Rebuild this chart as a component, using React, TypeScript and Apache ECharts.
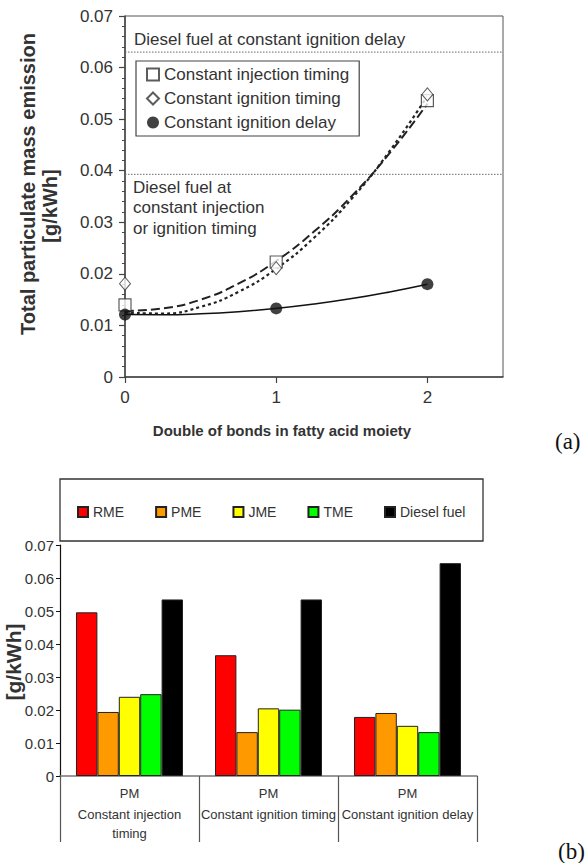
import React, { useEffect, useRef } from "react";
import * as echarts from "echarts";

// ---------- Chart (a) data ----------
const bondsX = [0, 1, 2];
const injTiming = [0.014, 0.0223, 0.0536];
const ignTiming = [0.0181, 0.0211, 0.0548];
const ignDelay = [0.0121, 0.0133, 0.018];

const fitX = [0, 0.25, 0.5, 0.75, 1, 1.25, 1.5, 1.75, 2];
const fitInj = [0.0128, 0.0133, 0.015, 0.0181, 0.0225, 0.0282, 0.0351, 0.0434, 0.053];
const fitIgn = [0.0125, 0.0123, 0.0136, 0.0165, 0.021, 0.027, 0.0346, 0.0438, 0.0545];
const fitDel = [0.0121, 0.01207, 0.01226, 0.01267, 0.0133, 0.01414, 0.0152, 0.0165, 0.018];

const refX = [0, 2.5];
const dieselDelayRef = 0.063;
const dieselTimingRef = 0.0393;

const xTicksA = [0, 1, 2];

// ---------- Chart (b) data ----------
const pollutant = "PM";
const categoriesB = ["Constant injection\ntiming", "Constant ignition timing", "Constant ignition delay"];
const fuels = ["RME", "PME", "JME", "TME", "Diesel fuel"];
const fuelColors = ["#ff0000", "#ff9900", "#ffff00", "#00ff00", "#000000"];
const rme = [0.0496, 0.0366, 0.0179];
const pme = [0.0194, 0.0133, 0.0191];
const jme = [0.024, 0.0205, 0.0152];
const tme = [0.0248, 0.0201, 0.0133];
const diesel = [0.0535, 0.0535, 0.0645];
const fuelValues = [rme, pme, jme, tme, diesel];

const FONT = "'Liberation Sans', Arial, sans-serif";
const SERIF = "'Liberation Serif', 'Times New Roman', serif";

function zip(xs: number[], ys: number[]) {
  return xs.map((x, i) => [x, ys[i]]);
}

function txt(x: number, y: number, text: string, extra: any = {}, rotation = 0) {
  return {
    type: "text",
    x,
    y,
    rotation,
    silent: true,
    style: {
      text,
      fontFamily: FONT,
      fontSize: 17,
      fill: "#333",
      textAlign: "left",
      align: "left",
      textVerticalAlign: "middle",
      verticalAlign: "middle",
      ...extra,
    },
  };
}

export default function App() {
  const ref = useRef<HTMLDivElement>(null);

  useEffect(() => {
    if (!ref.current) return;
    const chart = echarts.init(ref.current, null, { renderer: "svg" });

    const yFmt = (v: number) => (v === 0 ? "0" : v.toFixed(2));

    const refLine = (name: string, v: number) => ({
      name,
      type: "line",
      xAxisIndex: 0,
      yAxisIndex: 0,
      data: zip(refX, refX.map(() => v)),
      showSymbol: false,
      silent: true,
      z: 1,
      lineStyle: { color: "#666", width: 1, type: [1.5, 1.5] },
    });

    const option: any = {
      animation: false,
      backgroundColor: "#fff",
      textStyle: { fontFamily: FONT, color: "#333" },
      grid: [
        { left: 125, top: 16, right: 84, bottom: 486, show: true, borderColor: "#555", borderWidth: 1 },
        { left: 60, top: 545, right: 110, bottom: 87 },
      ],
      xAxis: [
        {
          gridIndex: 0,
          type: "value",
          min: 0,
          max: 2.5,
          interval: 1,
          axisLine: { show: true, lineStyle: { color: "#444", width: 1.5 } },
          axisTick: { show: true, length: 6, customValues: xTicksA, lineStyle: { color: "#444", width: 1.2 } },
          axisLabel: { customValues: xTicksA, fontSize: 17, color: "#333", margin: 12, fontFamily: FONT },
          splitLine: { show: false },
        },
        {
          gridIndex: 1,
          type: "category",
          data: categoriesB,
          axisLine: { show: true, lineStyle: { color: "#777", width: 1.5 } },
          axisTick: { show: true, length: 66, interval: 0, lineStyle: { color: "#555", width: 1.2 } },
          axisLabel: {
            interval: 0,
            margin: 5,
            formatter: (v: string) => `{p|${pollutant}}\n{c|${v}}`,
            rich: {
              p: { fontSize: 13, lineHeight: 24, color: "#333", fontFamily: FONT },
              c: { fontSize: 13, lineHeight: 19, color: "#333", fontFamily: FONT },
            },
          },
        },
      ],
      yAxis: [
        {
          gridIndex: 0,
          type: "value",
          min: 0,
          max: 0.07,
          interval: 0.01,
          axisLine: { show: true, lineStyle: { color: "#444", width: 1.5 } },
          axisTick: { show: true, length: 6, lineStyle: { color: "#444", width: 1.2 } },
          minorTick: { show: true, splitNumber: 5, length: 3, lineStyle: { color: "#444", width: 1 } },
          axisLabel: { fontSize: 17, color: "#333", margin: 12, formatter: yFmt, fontFamily: FONT },
          splitLine: { show: false },
        },
        {
          gridIndex: 1,
          type: "value",
          min: 0,
          max: 0.07,
          interval: 0.01,
          axisLine: { show: true, lineStyle: { color: "#111", width: 1.2 } },
          axisTick: { show: true, length: 4, lineStyle: { color: "#111", width: 1 } },
          axisLabel: { fontSize: 15, color: "#333", margin: 6, formatter: yFmt, fontFamily: FONT },
          splitLine: { show: false },
        },
      ],
      legend: [
        {
          data: ["Constant injection timing", "Constant ignition timing", "Constant ignition delay"],
          orient: "vertical",
          left: 136,
          top: 61,
          itemWidth: 12,
          itemHeight: 12,
          itemGap: 7,
          padding: [5, 10, 5, 10],
          borderColor: "#444",
          borderWidth: 1.2,
          textStyle: { fontSize: 17, color: "#333", fontFamily: FONT },
        },
        {
          data: fuels,
          left: 77,
          top: 505,
          padding: 0,
          itemWidth: 10,
          itemHeight: 10,
          itemGap: 31,
          icon: "rect",
          textStyle: { fontSize: 14, color: "#333", fontFamily: FONT },
        },
      ],
      graphic: [
        {
          type: "rect",
          silent: true,
          shape: { x: 60, y: 479, width: 423, height: 62 },
          style: { fill: "none", stroke: "#333", lineWidth: 1.3 },
        },
        txt(134, 39, "Diesel fuel at constant ignition delay"),
        txt(133, 177, "Diesel fuel at\nconstant injection\nor ignition timing", {
          lineHeight: 20.5,
          textVerticalAlign: "top",
          verticalAlign: "top",
        }),
        txt(282, 430, "Double of bonds in fatty acid moiety", {
          fontSize: 15,
          fontWeight: "bold",
          textAlign: "center",
          align: "center",
        }),
        txt(28, 184, "Total particulate mass emission", {
          fontSize: 20,
          fontWeight: "bold",
          textAlign: "center",
          align: "center",
        }, Math.PI / 2),
        txt(50, 206, "[g/kWh]", {
          fontSize: 20,
          fontWeight: "bold",
          textAlign: "center",
          align: "center",
        }, Math.PI / 2),
        txt(13, 662, "[g/kWh]", {
          fontSize: 21,
          fontWeight: "bold",
          textAlign: "center",
          align: "center",
        }, Math.PI / 2),
        txt(555, 441, "(a)", { fontFamily: SERIF, fontSize: 23, fill: "#111" }),
        txt(558, 851, "(b)", { fontFamily: SERIF, fontSize: 23, fill: "#111" }),
      ],
      series: [
        refLine("dieselDelay", dieselDelayRef),
        refLine("dieselTiming", dieselTimingRef),
        {
          name: "fitInj",
          type: "line",
          xAxisIndex: 0,
          yAxisIndex: 0,
          data: zip(fitX, fitInj),
          smooth: true,
          showSymbol: false,
          silent: true,
          z: 2,
          lineStyle: { color: "#222", width: 2, type: [9, 4] },
        },
        {
          name: "fitIgn",
          type: "line",
          xAxisIndex: 0,
          yAxisIndex: 0,
          data: zip(fitX, fitIgn),
          smooth: true,
          showSymbol: false,
          silent: true,
          z: 2,
          lineStyle: { color: "#222", width: 2.2, type: [3, 3] },
        },
        {
          name: "fitDel",
          type: "line",
          xAxisIndex: 0,
          yAxisIndex: 0,
          data: zip(fitX, fitDel),
          smooth: true,
          showSymbol: false,
          silent: true,
          z: 2,
          lineStyle: { color: "#111", width: 1.5 },
        },
        {
          name: "Constant injection timing",
          type: "scatter",
          xAxisIndex: 0,
          yAxisIndex: 0,
          data: zip(bondsX, injTiming),
          symbol: "rect",
          symbolSize: 12,
          z: 4,
          itemStyle: { color: "#fff", borderColor: "#333", borderWidth: 1.2 },
        },
        {
          name: "Constant ignition timing",
          type: "scatter",
          xAxisIndex: 0,
          yAxisIndex: 0,
          data: zip(bondsX, ignTiming),
          symbol: "diamond",
          symbolSize: [11, 13],
          z: 5,
          itemStyle: { color: "#fff", borderColor: "#333", borderWidth: 1 },
        },
        {
          name: "Constant ignition delay",
          type: "scatter",
          xAxisIndex: 0,
          yAxisIndex: 0,
          data: zip(bondsX, ignDelay),
          symbol: "circle",
          symbolSize: 12,
          z: 5,
          itemStyle: { color: "#111" },
        },
        ...fuels.map((f, i) => ({
          name: f,
          type: "bar",
          xAxisIndex: 1,
          yAxisIndex: 1,
          data: fuelValues[i],
          barGap: "0%",
          barCategoryGap: "23%",
          itemStyle: { color: fuelColors[i], borderColor: "#222", borderWidth: 1 },
        })),
      ],
    };

    chart.setOption(option);
    return () => chart.dispose();
  }, []);

  return (
    <div
      ref={ref}
      style={{ position: "fixed", left: 0, top: 0, width: 587, height: 863, background: "#fff" }}
    />
  );
}
